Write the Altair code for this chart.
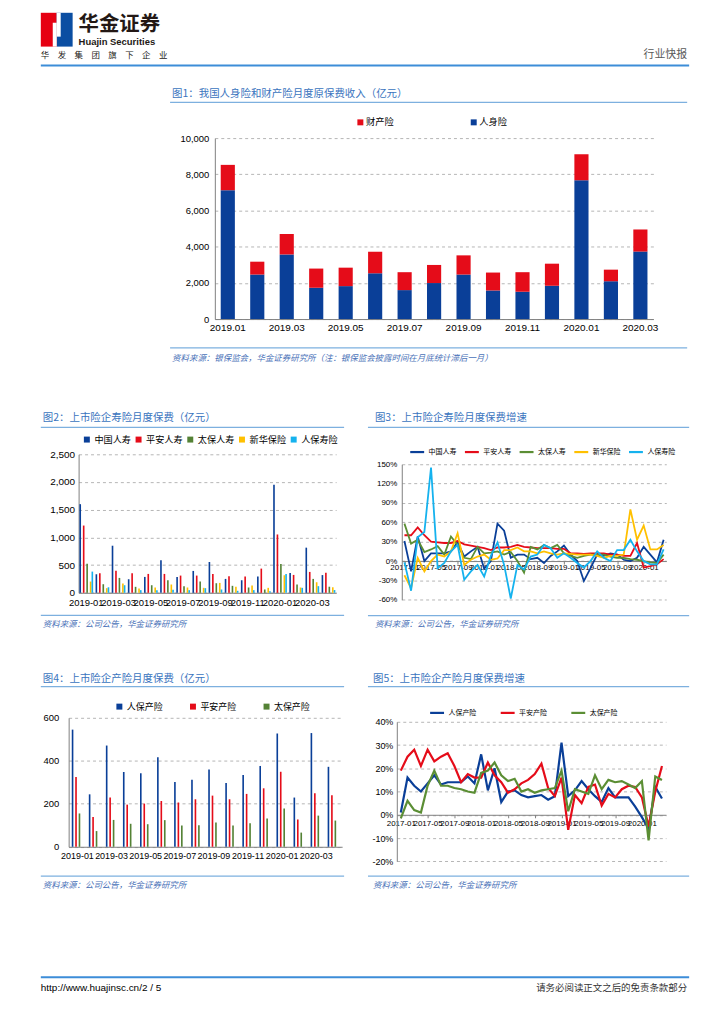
import altair as alt
import pandas as pd

FONT_CN = "Noto Sans CJK SC"
FONT_EN = "Liberation Sans"

C_BLUE = "#0A3F98"
C_RED = "#E50C19"
C_GREEN = "#548235"
C_YELLOW = "#FFC000"
C_CYAN = "#15B2EE"
C_TITLE = "#3A74BE"
C_RULE = "#7DB0DF"
C_SRC = "#4A72B8"
C_GRID = "#B5B5B5"
C_AXIS = "#808080"
C_HEAD = "#3C8DD8"

# ---------------- data ----------------
# Figure 1: monthly premium income (100m yuan)
months_a = ["2019.01", "2019.02", "2019.03", "2019.04", "2019.05", "2019.06", "2019.07",
            "2019.08", "2019.09", "2019.10", "2019.11", "2019.12", "2020.01", "2020.02", "2020.03"]
life_prem = [7120, 2460, 3570, 1730, 1820, 2530, 1600, 1990, 2460, 1580, 1510, 1840, 7670, 2090, 3730]
prop_prem = [1400, 710, 1130, 1060, 1020, 1190, 990, 1000, 1060, 990, 1080, 1220, 1440, 640, 1220]

# Figures 2 and 4: listed insurers monthly premium (100m yuan)
months_b = ["2019-01", "2019-02", "2019-03", "2019-04", "2019-05", "2019-06", "2019-07", "2019-08",
            "2019-09", "2019-10", "2019-11", "2019-12", "2020-01", "2020-02", "2020-03", "2020-04"]
life_cos = ["中国人寿", "平安人寿", "太保人寿", "新华保险", "人保寿险"]
china_life = [1600, 335, 850, 245, 287, 586, 287, 395, 556, 251, 227, 293, 1950, 359, 815, 320]
pingan_life = [1214, 353, 400, 353, 341, 341, 311, 311, 341, 299, 293, 437, 1053, 323, 377, 360]
cpic_life = [526, 155, 269, 108, 137, 227, 120, 203, 173, 126, 96, 60, 520, 150, 251, 110]
nci_life = [203, 84, 167, 78, 96, 150, 96, 90, 179, 108, 132, 90, 317, 96, 191, 100]
picc_life = [383, 100, 137, 48, 48, 54, 48, 84, 60, 36, 48, 30, 341, 90, 120, 50]

prop_cos = ["人保产险", "平安产险", "太保产险"]
picc_prop = [545, 244, 471, 348, 342, 417, 301, 312, 359, 297, 334, 376, 527, 229, 529, 372]
pingan_prop = [325, 138, 229, 196, 201, 213, 206, 221, 238, 221, 246, 272, 349, 127, 249, 240]
cpic_prop = [155, 73, 125, 107, 105, 124, 99, 100, 113, 99, 110, 131, 178, 66, 145, 122]

# Figures 3 and 5: growth rates (%)
months_d = ["2017-01", "2017-02", "2017-03", "2017-04", "2017-05", "2017-06", "2017-07", "2017-08",
            "2017-09", "2017-10", "2017-11", "2017-12", "2018-01", "2018-02", "2018-03", "2018-04",
            "2018-05", "2018-06", "2018-07", "2018-08", "2018-09", "2018-10", "2018-11", "2018-12",
            "2019-01", "2019-02", "2019-03", "2019-04", "2019-05", "2019-06", "2019-07", "2019-08",
            "2019-09", "2019-10", "2019-11", "2019-12", "2020-01", "2020-02", "2020-03", "2020-04"]
g_china_life = [31, -16, 38, 0, 12, 12, 12, 15, 29, 7, 15, 22, -12, 0, 58, 47, 5, 10, 10, 3,
                5, -3, 8, 15, 24, 10, 0, -31, -11, 10, 8, 12, 10, 2, 0, 5, 22, 10, -2, 33]
g_pingan_life = [40, 40, 52, 40, 30, 29, 28, 28, 31, 26, 24, 22, 20, 17, 21, 21, 22, 25, 22, 21,
                 20, 20, 20, 19, 19, 12, 12, 11, 12, 12, 12, 10, 10, 8, 8, 28, -10, -8, -5, 3]
g_cpic_life = [58, 27, 33, 14, 18, 23, 10, 38, 25, 5, 3, 22, 12, 13, 15, 10, 14, 0, -18, 22,
               18, 25, 20, 25, 12, 8, 5, 8, 10, 10, 10, 7, 5, 5, 3, 2, 0, -2, -3, 10]
g_nci_life = [-22, -42, 5, -16, 0, 10, 7, 15, 43, -6, 2, 7, 10, 2, 4, 17, 17, 21, 15, 15,
              12, 15, 12, 10, 12, 11, 10, 10, 10, 8, 5, 8, 8, 10, 80, 33, 55, 18, 18, 25]
g_picc_life = [-2, -46, 37, 45, 145, -11, -3, 15, 25, -29, -16, -6, -24, 8, 29, -6, -58, -6, -13, 7,
               10, 25, 20, 5, 12, 5, -3, -10, 0, 15, 5, 0, 17, 17, 33, 15, 0, -5, -5, 18]

g_picc_prop = [1, 16, 12.5, 10, 13.5, 17, 13, 14, 14, 14, 16.5, 13.5, 26, 10.5, 20, 5.5, 10, 10.5, 8.5, 7.5,
               8, 8.5, 6.5, 8, 31, 8, 10.5, 14.5, 11, 8, 5.5, 11.5, 7.5, 7.5, 7.5, 3.5, -1, -6, 12, 7]
g_pingan_prop = [19, 25, 28, 21, 28, 23, 25, 26.5, 21, 14, 17.5, 16, 16, 22.5, 17, 14, 9.5, 11, 13.5, 15,
                 17.5, 22, 11.5, 8, 16, -6.5, 8.5, 5, 12, 13, 4, 9, 7.5, 11, 12.5, 12, 7.5, -5, 10, 21]
g_cpic_prop = [-1.5, 6, 2, 1, 12.5, 19, 12.5, 12.5, 11.5, 11, 10, 9.5, 18, 19, 22.5, 17, 14.5, 15.5, 10, 11,
               9.5, 10.5, 11, 11.5, 19, 1.5, 11, 10, 9, 17, 11, 15, 14, 14.5, 13, 11.5, 14.5, -11, 16.5, 15]

# texts
title1 = "图1：我国人身险和财产险月度原保费收入（亿元）"
title2 = "图2：上市险企寿险月度保费（亿元）"
title3 = "图3：上市险企寿险月度保费增速"
title4 = "图4：上市险企产险月度保费（亿元）"
title5 = "图5：上市险企产险月度保费增速"
source1 = "资料来源：银保监会，华金证券研究所（注：银保监会披露时间在月底统计滞后一月）"
source_co = "资料来源：公司公告，华金证券研究所"

# ---------------- helpers (decoration only) ----------------
one = pd.DataFrame({"k": [0]})


def frame(x1, x2, y1, y2):
    return alt.Chart(one).mark_rect(opacity=0).encode(
        x=alt.value(x1), x2=alt.value(x2), y=alt.value(y1), y2=alt.value(y2))


def box(x1, x2, y1, y2, color):
    return alt.Chart(one).mark_rect(color=color).encode(
        x=alt.value(x1), x2=alt.value(x2), y=alt.value(y1), y2=alt.value(y2))


def hrule(x1, x2, y, color, width=1.0):
    return alt.Chart(one).mark_rule(color=color, strokeWidth=width).encode(
        x=alt.value(x1), x2=alt.value(x2), y=alt.value(y))


def label(s, x, y, size, color, font=FONT_CN, align="left", weight="normal", style="normal"):
    return alt.Chart(one).mark_text(
        text=s, font=font, fontSize=size, color=color, align=align, baseline="middle",
        fontWeight=weight, fontStyle=style).encode(x=alt.value(x), y=alt.value(y))


def y_axis(values, fmt, size, pad, offset=0, expr=None):
    kw = dict(values=values, format=fmt, title=None, labelFontSize=size, labelPadding=pad,
              grid=True, gridDash=[3, 3], gridColor=C_GRID, domain=True, domainColor=C_AXIS,
              ticks=False, labelColor="#000", labelFont=FONT_EN, offset=offset)
    if expr:
        kw["labelExpr"] = expr
    return alt.Axis(**kw)


def legend(x, y, cpad, n, size=9.0, sym="square", ssize=36, offset=3, stroke_w=None):
    kw = dict(orient="none", legendX=x, legendY=y, direction="horizontal", columns=n, title=None,
              symbolType=sym, symbolSize=ssize, labelFontSize=size, labelFont=FONT_CN,
              labelColor="#000", labelOffset=offset, columnPadding=cpad, padding=0)
    if stroke_w:
        kw["symbolStrokeWidth"] = stroke_w
    return alt.Legend(**kw)


def decor(fx, fy, title, tpos, rule_x, rule_y, src, src_pos, src_rule_y):
    return [
        frame(fx[0], fx[1], fy[0], fy[1]),
        label(title, tpos[0], tpos[1], 10.5, C_TITLE),
        hrule(rule_x[0], rule_x[1], rule_y, C_RULE, 1.2),
        hrule(rule_x[0], rule_x[1], src_rule_y, C_RULE, 1.2),
        label(src, src_pos[0], src_pos[1], 8.5, C_SRC, style="italic"),
    ]


minus_fix = "replace(datum.label, '\u2212', '-')"

# All views in the left column share the same origin (page x = 68).

# ---------------- header (origin page 68, 8) ----------------
header = alt.layer(
    frame(-60, 648, -6, 61),
    box(-28, -12, 1, 35, "#E60012"),
    box(-12, 4, 1, 35, "#0B4EA2"),
    box(-16, -12, 11, 35, "white"),
    box(-12, -8, 1, 25, "white"),
    label("华金证券", 10, 13, 20.5, "#231815", weight="bold"),
    label("Huajin Securities", 10, 30.5, 9.5, "#231815", font=FONT_EN, weight="bold"),
    label("华\u2003发\u2003集\u2003团\u2003旗\u2003下\u2003企\u2003业", -28, 43, 8.5, "#231815"),
    label("行业快报", 622, 43, 11, "#595959", align="right"),
    hrule(-28, 624, 54, C_HEAD, 2),
).properties(width=1, height=61)

# ---------------- figure 1 (origin page 68, 134; plot starts at x 147) ----------------
SX1, W1, H1 = 147, 441, 182
df1 = pd.DataFrame({
    "month": months_a * 2,
    "type": ["人身险"] * len(months_a) + ["财产险"] * len(months_a),
    "value": life_prem + prop_prem,
    "ord": [0] * len(months_a) + [1] * len(months_a),
})
bars1 = alt.Chart(df1).mark_bar().encode(
    x=alt.X("month:N", sort=months_a,
            scale=alt.Scale(paddingInner=0.52, paddingOuter=0.2, range=[SX1, SX1 + W1]),
            axis=alt.Axis(values=months_a[::2], title=None, labelAngle=0, labelFontSize=10,
                          labelPadding=4, ticks=False, domainColor=C_AXIS, labelFont=FONT_EN,
                          labelColor="#000")),
    y=alt.Y("value:Q", stack="zero", scale=alt.Scale(domain=[0, 10000], nice=False),
            axis=y_axis(list(range(0, 10001, 2000)), ",d", 9.5, 6, offset=-SX1)),
    color=alt.Color("type:N", scale=alt.Scale(domain=["财产险", "人身险"], range=[C_RED, C_BLUE]),
                    legend=legend(288.7, -20.5, 75, 2, size=9.3, offset=1)),
    order=alt.Order("ord:Q"),
)
chart1 = alt.layer(
    *decor((-60, 648), (-64, 265), title1, (104, -44), (102, 622), -36,
           source1, (104, 221), 211),
    bars1,
).properties(width=SX1 + W1, height=H1)

# ---------------- figure 2 (origin page 68, 451; plot starts at x 10) ----------------
SX2, W2, H2 = 10, 259, 139.3
life_vals = [china_life, pingan_life, cpic_life, nci_life, picc_life]
df2 = pd.DataFrame([
    {"month": m, "company": c, "value": v[i]}
    for c, v in zip(life_cos, life_vals) for i, m in enumerate(months_b)
])
bars2 = alt.Chart(df2).mark_bar().encode(
    x=alt.X("month:N", sort=months_b,
            scale=alt.Scale(paddingInner=0.15, paddingOuter=0.05, range=[SX2, SX2 + W2]),
            axis=alt.Axis(values=months_b[::2], title=None, labelAngle=0, labelFontSize=9.5,
                          labelPadding=5, ticks=False, domainColor=C_AXIS, labelFont=FONT_EN,
                          labelColor="#000")),
    xOffset=alt.XOffset("company:N", sort=life_cos),
    y=alt.Y("value:Q", scale=alt.Scale(domain=[0, 2500], nice=False),
            axis=y_axis(list(range(0, 2501, 500)), ",d", 10, 4, offset=-SX2)),
    color=alt.Color("company:N", scale=alt.Scale(domain=life_cos,
                                                 range=[C_BLUE, C_RED, C_GREEN, C_YELLOW, C_CYAN]),
                    legend=legend(13.7, -19.5, 3, 5, size=9.2)),
)
chart2 = alt.layer(
    *decor((-60, 288), (-51, 194), title2, (-26, -36), (-28, 277), -27,
           source_co, (-26, 171), 162),
    bars2,
).properties(width=SX2 + W2, height=H2)

# ---------------- figure 3 (origin page 401, 451; plot starts at y 10) ----------------
SY3, W3, H3 = 10, 266, 136.3
g_life_vals = [g_china_life, g_pingan_life, g_cpic_life, g_nci_life, g_picc_life]
df3 = pd.DataFrame([
    {"month": m, "company": c, "order": k, "value": v[i] / 100.0}
    for k, (c, v) in enumerate(zip(life_cos, g_life_vals)) for i, m in enumerate(months_d)
])
zero3 = SY3 + H3 * 1.5 / 2.1
lines3 = alt.Chart(df3).mark_line(strokeWidth=1.8).encode(
    x=alt.X("month:O", sort=months_d, scale=alt.Scale(type="point", padding=0.4),
            axis=alt.Axis(values=months_d[::4], title=None, labelAngle=0, labelFontSize=8,
                          labelPadding=0, ticks=True, tickSize=3, tickColor=C_AXIS,
                          domainColor=C_AXIS, labelFont=FONT_EN, labelColor="#000",
                          offset=-(SY3 + H3 - zero3))),
    y=alt.Y("value:Q", scale=alt.Scale(domain=[-0.6, 1.5], nice=False, range=[SY3 + H3, SY3]),
            axis=y_axis([-0.6, -0.3, 0, 0.3, 0.6, 0.9, 1.2, 1.5], ".0%", 8, 5, expr=minus_fix)),
    color=alt.Color("company:N", scale=alt.Scale(domain=life_cos,
                                                 range=[C_BLUE, C_RED, "#5B8E34", C_YELLOW, C_CYAN]),
                    legend=legend(7, -10.8, 4, 5, size=7, sym="stroke", ssize=196, offset=3,
                                  stroke_w=2.2)),
    order=alt.Order("order:Q"),
)
chart3 = alt.layer(
    *decor((-45, 315), (-51, 194), title3, (-27, -36), (-34, 289), -27,
           source_co, (-27, 171), 162.3),
    lines3,
).properties(width=W3, height=SY3 + H3)

# ---------------- figure 4 (origin page 68, 714) ----------------
W4, H4 = 275, 129.7
prop_vals = [picc_prop, pingan_prop, cpic_prop]
df4 = pd.DataFrame([
    {"month": m, "company": c, "value": v[i]}
    for c, v in zip(prop_cos, prop_vals) for i, m in enumerate(months_b)
])
bars4 = alt.Chart(df4).mark_bar().encode(
    x=alt.X("month:N", sort=months_b, scale=alt.Scale(paddingInner=0.13, paddingOuter=0.08),
            axis=alt.Axis(values=months_b[::2], title=None, labelAngle=0, labelFontSize=9,
                          labelPadding=5, ticks=False, domainColor=C_AXIS, labelFont=FONT_EN,
                          labelColor="#000")),
    xOffset=alt.XOffset("company:N", sort=prop_cos, scale=alt.Scale(paddingInner=0.06)),
    y=alt.Y("value:Q", scale=alt.Scale(domain=[0, 600], nice=False),
            axis=y_axis([0, 200, 400, 600], "d", 9.5, 10)),
    color=alt.Color("company:N", scale=alt.Scale(domain=prop_cos, range=[C_BLUE, C_RED, C_GREEN]),
                    legend=legend(46.5, -16, 25, 3, size=9)),
)
chart4 = alt.layer(
    *decor((-60, 288), (-69, 189), title4, (-26, -39), (-28, 277), -31.3,
           source_co, (-26, 168), 159.3),
    bars4,
).properties(width=W4, height=H4)

# ---------------- figure 5 (origin page 396, 714; plot starts at y 4) ----------------
SY5, W5, H5 = 4, 270.7, 140.3
g_prop_vals = [g_picc_prop, g_pingan_prop, g_cpic_prop]
df5 = pd.DataFrame([
    {"month": m, "company": c, "order": k, "value": v[i] / 100.0}
    for k, (c, v) in enumerate(zip(prop_cos, g_prop_vals)) for i, m in enumerate(months_d)
])
zero5 = SY5 + H5 * 0.4 / 0.6
lines5 = alt.Chart(df5).mark_line(strokeWidth=2.2).encode(
    x=alt.X("month:O", sort=months_d, scale=alt.Scale(type="point", padding=0.6),
            axis=alt.Axis(values=months_d[::4], title=None, labelAngle=0, labelFontSize=8,
                          labelPadding=2, ticks=True, tickSize=3, tickColor=C_AXIS,
                          domainColor=C_AXIS, labelFont=FONT_EN, labelColor="#000",
                          offset=-(SY5 + H5 - zero5))),
    y=alt.Y("value:Q", scale=alt.Scale(domain=[-0.2, 0.4], nice=False, range=[SY5 + H5, SY5]),
            axis=y_axis([-0.2, -0.1, 0, 0.1, 0.2, 0.3, 0.4], ".0%", 9, 4, expr=minus_fix)),
    color=alt.Color("company:N", scale=alt.Scale(domain=prop_cos, range=[C_BLUE, C_RED, "#5B8E34"]),
                    legend=legend(32, -13.5, 20, 3, size=7, sym="stroke", ssize=196, offset=3,
                                  stroke_w=2.2)),
    order=alt.Order("order:Q"),
)
chart5 = alt.layer(
    *decor((-40, 320), (-69, 189), title5, (-24, -39), (-29, 294), -31.3,
           source_co, (-24, 168), 159.3),
    lines5,
).properties(width=W5, height=SY5 + H5)

# ---------------- footer (origin page 68, 905) ----------------
footer = alt.layer(
    frame(-60, 648, 0, 95),
    hrule(-28, 624, 70, C_HEAD, 2),
    label("http://www.huajinsc.cn/2 / 5", -28, 81, 10, "#000", font=FONT_EN),
    label("请务必阅读正文之后的免责条款部分", 622, 81, 9.5, "#333333", align="right"),
).properties(width=1, height=95)

row2 = alt.hconcat(chart2, chart3, spacing=0).resolve_scale(color="independent")
row3 = alt.hconcat(chart4, chart5, spacing=0).resolve_scale(color="independent")

chart = alt.vconcat(header, chart1, row2, row3, footer, spacing=0).resolve_scale(
    color="independent", x="independent", y="independent"
).properties(
    padding={"left": 0, "top": -6, "right": 0, "bottom": 0}
).configure_view(stroke="transparent")

chart.save("out.html", embed_options={"renderer": "svg", "actions": False})
